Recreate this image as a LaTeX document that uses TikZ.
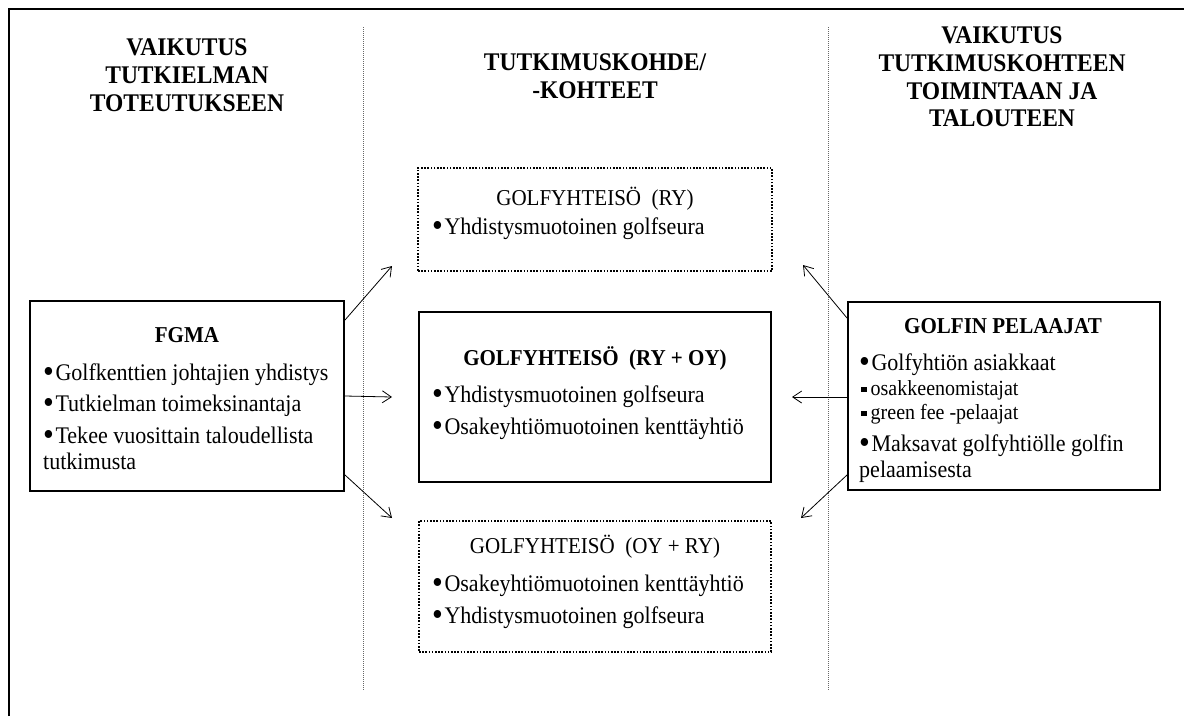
\documentclass[tikz,border=0pt]{standalone}
\usepackage{fontspec}
\usepackage{graphicx}
\setmainfont[FakeStretch=0.926]{Liberation Serif}
\usetikzlibrary{arrows.meta}
\newcommand{\bul}{\raisebox{-2.5pt}{\scalebox{1.4}{•}}\hspace{1.5pt}}
\newcommand{\sqbul}{\rule[3pt]{5.5pt}{5.5pt}\hspace{4pt}}
\begin{document}
\begin{tikzpicture}[x=1pt,y=-1pt,
  solidbox/.style={draw, line width=2pt, inner sep=0pt},
  dotbox/.style={draw, line width=1.6pt, dash pattern=on 1.6pt off 1.6pt, inner sep=0pt},
  divider/.style={draw=black!60, line width=0.9pt, dash pattern=on 1pt off 1pt},
  frame/.style={draw, line width=1.6pt},
  conn/.style={line width=0.8pt, -{Straight Barb[length=9pt,width=12pt,line width=0.8pt]}},
  head/.style={font=\fontsize{25.4}{27.8}\selectfont\bfseries, align=center, inner sep=0pt, anchor=north},
  txt/.style={font=\fontsize{23.8}{26}\selectfont, inner sep=0pt, anchor=base west},
  subtxt/.style={font=\fontsize{21.6}{24}\selectfont, inner sep=0pt, anchor=base west},
  btitle/.style={font=\fontsize{22.7}{25}\selectfont\bfseries, inner sep=0pt, anchor=base},
  rtitle/.style={font=\fontsize{22.7}{25}\selectfont, inner sep=0pt, anchor=base},
]
\useasboundingbox (0,0) rectangle (1184,724);

% outer frame (top and left edges visible)
\draw[frame] (9,716) -- (9,9) -- (1184,9);

% dividers
\coordinate (d1t) at (363,27); \coordinate (d1b) at (363,690);
\coordinate (d2t) at (828,27); \coordinate (d2b) at (828,690);
\draw[divider] (d1t) -- (d1b);
\draw[divider] (d2t) -- (d2b);

% headers
\node[head] (hl) at (187,38.5) {VAIKUTUS\\TUTKIELMAN\\TOTEUTUKSEEN};
\node[head] (hm) at (595,53.5) {TUTKIMUSKOHDE/\\-KOHTEET};
\node[head] (hr) at (1002,26.5) {VAIKUTUS\\TUTKIMUSKOHTEEN\\TOIMINTAAN JA\\TALOUTEEN};

% boxes
\node[solidbox, minimum width=314pt, minimum height=190pt] (fgma) at (187,396) {};
\node[dotbox, minimum width=354pt, minimum height=103pt] (top) at (595,219.5) {};
\node[solidbox, minimum width=352pt, minimum height=170pt] (mid) at (595,397) {};
\node[dotbox, minimum width=352pt, minimum height=131pt] (bot) at (595,586.5) {};
\node[solidbox, minimum width=312pt, minimum height=188pt] (pel) at (1004,396) {};

% FGMA texts
\node[btitle] (fgmaT) at (187,342) {FGMA};
\node[txt] (f1) at (43,380) {\bul Golfkenttien johtajien yhdistys};
\node[txt] (f2) at (43,411) {\bul Tutkielman toimeksinantaja};
\node[txt] (f3) at (43,443) {\bul Tekee vuosittain taloudellista};
\node[txt] (f4) at (43,469) {tutkimusta};

% top box texts
\node[rtitle] (topT) at (595,205) {GOLFYHTEISÖ\ \ (RY)};
\node[txt] (t1) at (432,234) {\bul Yhdistysmuotoinen golfseura};

% middle box texts
\node[btitle] (midT) at (595,365) {GOLFYHTEISÖ\ \ (RY + OY)};
\node[txt] (m1) at (432,402) {\bul Yhdistysmuotoinen golfseura};
\node[txt] (m2) at (432,434) {\bul Osakeyhtiömuotoinen kenttäyhtiö};

% bottom box texts
\node[rtitle] (botT) at (595,553) {GOLFYHTEISÖ\ \ (OY + RY)};
\node[txt] (b1) at (432,591) {\bul Osakeyhtiömuotoinen kenttäyhtiö};
\node[txt] (b2) at (432,623) {\bul Yhdistysmuotoinen golfseura};

% right box texts
\node[btitle] (pelT) at (1003,333) {GOLFIN PELAAJAT};
\node[txt] (p1) at (859,370) {\bul Golfyhtiön asiakkaat};
\node[subtxt] (p2) at (861,395) {\sqbul osakkeenomistajat};
\node[subtxt] (p3) at (861,419) {\sqbul green fee -pelaajat};
\node[txt] (p4) at (859,451) {\bul Maksavat golfyhtiölle golfin};
\node[txt] (p5) at (859,477) {pelaamisesta};

% arrow end points
\coordinate (fa1) at (fgma.east |- 0,320);
\coordinate (fa2) at (fgma.east);
\coordinate (fa3) at (fgma.east |- 0,475);
\coordinate (ta1) at (392,266);
\coordinate (ta2) at (392,397);
\coordinate (ta3) at (392,518);
\coordinate (pa1) at (pel.west |- 0,318);
\coordinate (pa2) at (pel.west |- 0,397);
\coordinate (pa3) at (pel.west |- 0,475);
\coordinate (tb1) at (803,265);
\coordinate (tb2) at (792,397);
\coordinate (tb3) at (801,518);

\draw[conn] (fa1) -- (ta1);
\draw[conn] (fa2) -- (ta2);
\draw[conn] (fa3) -- (ta3);
\draw[conn] (pa1) -- (tb1);
\draw[conn] (pa2) -- (tb2);
\draw[conn] (pa3) -- (tb3);
\end{tikzpicture}
\end{document}
